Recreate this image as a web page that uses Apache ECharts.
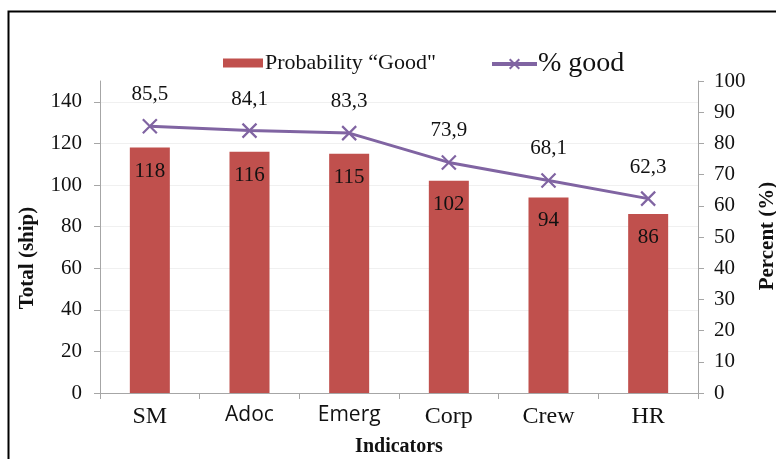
<!DOCTYPE html>
<html>
<head>
<meta charset="utf-8">
<script src="https://cdn.jsdelivr.net/npm/echarts@6/dist/echarts.min.js"></script>
<style>
  html, body { margin: 0; padding: 0; background: #fff; }
  #chart { width: 776px; height: 459px; }
</style>
</head>
<body>
<div id="chart"></div>
<script>
// Indicators on the x axis
const categories = ['SM', 'Adoc', 'Emerg', 'Corp', 'Crew', 'HR'];
// Number of ships rated "Good" per indicator (left axis)
const totalGood = [118, 116, 115, 102, 94, 86];
// Share of ships rated good, in percent (right axis)
const percentGood = [85.5, 84.1, 83.3, 73.9, 68.1, 62.3];
// Tick labels
const leftTicks = [0, 20, 40, 60, 80, 100, 120, 140];
const rightTicks = [0, 10, 20, 30, 40, 50, 60, 70, 80, 90, 100];

const barName = 'Probability \u201cGood"';
const lineName = '% good';

const SERIF = '"Liberation Serif", "DejaVu Serif", serif';
const SANS = '"Open Sans", "Liberation Sans", sans-serif';
const AXIS_GRAY = '#a6a6a6';
const TXT = '#111';

// Some category labels are set in a sans face, the rest in serif
const labelFace = { SM: 'serif', Adoc: 'sans', Emerg: 'sans', Corp: 'serif', Crew: 'serif', HR: 'serif' };

const chart = echarts.init(document.getElementById('chart'), null, { renderer: 'canvas' });

chart.setOption({
  backgroundColor: '#fff',
  animation: false,
  grid: { left: 100, right: 78, top: 81, bottom: 66, containLabel: false, outerBoundsMode: 'none' },
  legend: [
    {
      data: [barName],
      left: 223, top: 52, padding: 0,
      icon: 'rect', itemWidth: 40, itemHeight: 9, itemGap: 0,
      textStyle: { fontFamily: SERIF, fontSize: 22, color: TXT, padding: [3, 0, 0, -3] }
    },
    {
      data: [lineName],
      left: 490, top: 50, padding: 0,
      itemWidth: 45, itemHeight: 12,
      lineStyle: { width: 4 },
      textStyle: { fontFamily: SERIF, fontSize: 28, color: TXT, padding: [0, 0, 0, -4] }
    }
  ],
  xAxis: {
    type: 'category',
    data: categories,
    name: 'Indicators',
    nameLocation: 'middle',
    nameGap: 44,
    nameTextStyle: { fontFamily: SERIF, fontSize: 20, fontWeight: 'bold', color: TXT },
    axisLine: { lineStyle: { color: AXIS_GRAY, width: 1 } },
    axisTick: { show: true, length: 6, inside: false, lineStyle: { color: AXIS_GRAY } },
    axisLabel: {
      margin: 12,
      formatter: (v) => '{' + labelFace[v] + '|' + v + '}',
      rich: {
        serif: { fontFamily: SERIF, fontSize: 24, color: TXT },
        sans: { fontFamily: SANS, fontSize: 21, color: TXT }
      }
    }
  },
  yAxis: [
    {
      type: 'value',
      min: 0, max: 150, interval: 20,
      axisLine: { show: true, lineStyle: { color: AXIS_GRAY } },
      axisTick: { show: true, length: 6, customValues: leftTicks, lineStyle: { color: AXIS_GRAY } },
      axisLabel: { customValues: leftTicks, margin: 18, fontFamily: SERIF, fontSize: 21, color: TXT },
      splitLine: { show: true, lineStyle: { color: '#f0f0f0', width: 1 } }
    },
    {
      type: 'value',
      min: 0, max: 100, interval: 10,
      position: 'right',
      axisLine: { show: true, lineStyle: { color: AXIS_GRAY } },
      axisTick: { show: true, length: 6, lineStyle: { color: AXIS_GRAY } },
      axisLabel: { margin: 16, fontFamily: SERIF, fontSize: 21, color: TXT },
      splitLine: { show: false }
    }
  ],
  series: [
    {
      name: barName,
      type: 'bar',
      yAxisIndex: 0,
      data: totalGood,
      barWidth: 40,
      itemStyle: { color: '#c0504d' },
      label: {
        show: true, position: 'insideTop', distance: 13,
        fontFamily: SERIF, fontSize: 21, color: TXT
      },
      z: 2
    },
    {
      name: lineName,
      type: 'line',
      yAxisIndex: 1,
      data: percentGood,
      lineStyle: { color: '#8064a2', width: 3 },
      symbol: 'path://M0,0L10,10M10,0L0,10',
      symbolSize: 14,
      itemStyle: { color: 'rgba(0,0,0,0)', borderColor: '#8064a2', borderWidth: 2.2 },
      label: {
        show: true, position: 'top', distance: 13,
        fontFamily: SERIF, fontSize: 21, color: TXT,
        formatter: (p) => String(p.value).replace('.', ',')
      },
      z: 3
    }
  ],
  graphic: [
    {
      type: 'rect',
      shape: { x: 8.5, y: 11.5, width: 900, height: 600 },
      style: { fill: 'none', stroke: '#000', lineWidth: 2 },
      silent: true
    },
    {
      type: 'text',
      x: 28, y: 258, rotation: Math.PI / 2,
      style: {
        text: 'Total (ship)', fontFamily: SERIF, fontSize: 21, fontWeight: 'bold',
        fill: TXT, align: 'center', verticalAlign: 'middle'
      }
    },
    {
      type: 'text',
      x: 768, y: 236, rotation: Math.PI / 2,
      style: {
        text: 'Percent (%)', fontFamily: SERIF, fontSize: 21, fontWeight: 'bold',
        fill: TXT, align: 'center', verticalAlign: 'middle'
      }
    }
  ]
});
</script>
</body>
</html>
